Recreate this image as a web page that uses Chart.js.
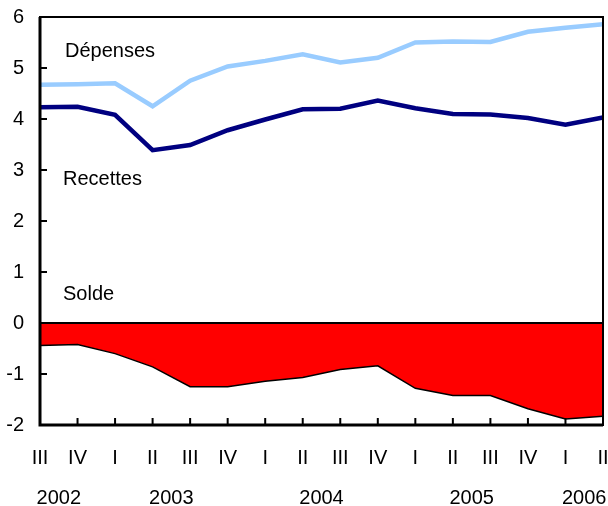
<!DOCTYPE html>
<html lang="fr">
<head>
    <meta charset="UTF-8">
    <title>Dépenses, recettes et solde</title>
    <script src="https://cdn.jsdelivr.net/npm/chart.js"></script>
    <style>
        body { margin: 0; background: #fff; }
    </style>
</head>
<body>
    <canvas id="chart" width="608" height="506"></canvas>

    <script>
        // Trimestres (2002 III -> 2006 II)
        const trimestres = ["III", "IV", "I", "II", "III", "IV", "I", "II", "III", "IV", "I", "II", "III", "IV", "I", "II"];
        const annees = ["2002", "2003", "2004", "2005", "2006"];
        // index du premier et dernier trimestre de chaque année
        const anneesDebut = [0, 2, 6, 10, 14];
        const anneesFin = [1, 5, 9, 13, 15];

        const depenses = [4.67, 4.68, 4.70, 4.25, 4.75, 5.03, 5.14, 5.27, 5.11, 5.20, 5.50, 5.52, 5.51, 5.71, 5.79, 5.86];
        const recettes = [4.23, 4.24, 4.08, 3.39, 3.49, 3.78, 3.99, 4.19, 4.20, 4.36, 4.21, 4.10, 4.09, 4.02, 3.89, 4.03];
        const solde = [-0.44, -0.42, -0.60, -0.86, -1.25, -1.25, -1.14, -1.07, -0.91, -0.84, -1.28, -1.42, -1.42, -1.68, -1.88, -1.83];

        const police = "Liberation Sans, Arial, Helvetica, sans-serif";

        // pas de marge automatique pour les étiquettes qui débordent
        function sansMarge(s) {
            s.paddingLeft = 0;
            s.paddingRight = 0;
            s.paddingTop = 0;
            s.paddingBottom = 0;
        }

        // cadre, ligne du zéro, petites graduations et textes
        const decor = {
            id: "decor",
            afterDatasetsDraw(chart) {
                const ctx = chart.ctx;
                const a = chart.chartArea;
                const x = chart.scales.x;
                const y = chart.scales.y;
                ctx.save();
                ctx.strokeStyle = "#000";

                // zéro
                ctx.lineWidth = 2;
                ctx.beginPath();
                ctx.moveTo(a.left, y.getPixelForValue(0));
                ctx.lineTo(a.right, y.getPixelForValue(0));
                ctx.stroke();

                // graduations vers l'intérieur
                ctx.beginPath();
                for (let v = -1; v <= 5; v++) {
                    const py = y.getPixelForValue(v);
                    ctx.moveTo(a.left, py);
                    ctx.lineTo(a.left + 7, py);
                }
                for (let i = 1; i < trimestres.length - 1; i++) {
                    const px = x.getPixelForValue(i);
                    ctx.moveTo(px, a.bottom);
                    ctx.lineTo(px, a.bottom - 7);
                }
                ctx.stroke();

                // cadre : haut et droite plus fins
                ctx.strokeRect(a.left, a.top, a.right - a.left, a.bottom - a.top);
                ctx.lineWidth = 3;
                ctx.beginPath();
                ctx.moveTo(a.left, a.top);
                ctx.lineTo(a.left, a.bottom);
                ctx.lineTo(a.right, a.bottom);
                ctx.stroke();

                // années
                ctx.fillStyle = "#000";
                ctx.font = "20px " + police;
                ctx.textAlign = "center";
                ctx.textBaseline = "alphabetic";
                annees.forEach((an, k) => {
                    const px = (x.getPixelForValue(anneesDebut[k]) + x.getPixelForValue(anneesFin[k])) / 2;
                    ctx.fillText(an, px, 504);
                });

                // noms des séries
                ctx.textAlign = "left";
                const gx = a.left + 25;
                ctx.fillText("Dépenses", gx, y.getPixelForValue(5.22));
                ctx.fillText("Recettes", gx - 2, y.getPixelForValue(2.71));
                ctx.fillText("Solde", gx - 2, y.getPixelForValue(0.45));
                ctx.restore();
            }
        };

        new Chart(document.getElementById("chart"), {
            type: "line",
            data: {
                labels: trimestres,
                datasets: [
                    {
                        label: "Solde",
                        data: solde,
                        borderColor: "#000",
                        borderWidth: 1.5,
                        backgroundColor: "#ff0000",
                        fill: "origin",
                        pointRadius: 0,
                        tension: 0
                    },
                    {
                        label: "Recettes",
                        data: recettes,
                        borderColor: "#000080",
                        borderWidth: 4.5,
                        fill: false,
                        pointRadius: 0,
                        tension: 0
                    },
                    {
                        label: "Dépenses",
                        data: depenses,
                        borderColor: "#99ccff",
                        borderWidth: 4.5,
                        fill: false,
                        pointRadius: 0,
                        tension: 0
                    }
                ]
            },
            options: {
                responsive: false,
                animation: false,
                layout: { padding: { top: 17, right: 5, left: 0, bottom: 0 } },
                plugins: {
                    legend: { display: false },
                    tooltip: { enabled: false }
                },
                scales: {
                    x: {
                        offset: false,
                        grid: { display: false, drawTicks: false },
                        border: { display: false },
                        ticks: {
                            color: "#000",
                            font: { family: police, size: 20 },
                            padding: 21,
                            maxRotation: 0,
                            autoSkip: false
                        },
                        afterFit(s) { s.height = 81; sansMarge(s); }
                    },
                    y: {
                        min: -2,
                        max: 6,
                        grid: { display: false, drawTicks: false },
                        border: { display: false },
                        ticks: {
                            stepSize: 1,
                            color: "#000",
                            font: { family: police, size: 20 },
                            padding: 16
                        },
                        afterFit(s) { s.width = 40; sansMarge(s); }
                    }
                }
            },
            plugins: [decor]
        });
    </script>
</body>
</html>
